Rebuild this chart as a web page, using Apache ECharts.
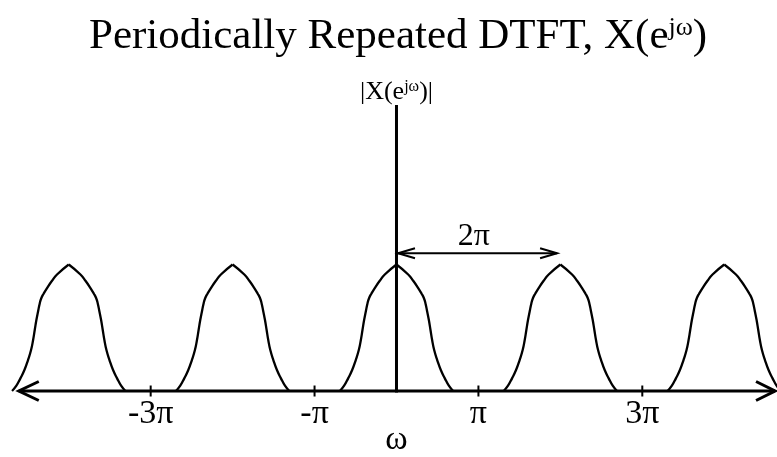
<!DOCTYPE html>
<html>
<head>
<meta charset="utf-8">
<script src="https://cdn.jsdelivr.net/npm/echarts@6/dist/echarts.min.js"></script>
<style>
  html, body { margin: 0; padding: 0; background: #fff; }
  #chart { width: 777px; height: 457px; }
</style>
</head>
<body>
<div id="chart"></div>
<script>
// One lobe of |X(e^jω)|: distance from the lobe centre (units of π) and magnitude
const lobeOffsets    = [0, 0.143, 0.204, 0.265, 0.305, 0.334, 0.354, 0.375, 0.395, 0.415, 0.435, 0.46, 0.497, 0.541, 0.59, 0.639, 0.692];
const lobeMagnitudes = [1, 0.921, 0.872, 0.814, 0.771, 0.735, 0.692, 0.627, 0.561, 0.482, 0.403, 0.324, 0.245, 0.166, 0.100, 0.042, 0];
// The spectrum repeats every 2π
const lobeCenters = [-4, -2, 0, 2, 4];
// ω axis ticks (units of π)
const tickValues = [-3, -1, 1, 3];
const tickLabels = ['-3π', '-π', 'π', '3π'];
// Extents of the drawn axes
const omegaAxisEnds = [-4.61, 4.62];
const magAxisTop = 2.261;
// Period marker: from ω = 0 to the next lobe peak
const periodSpan = [0, 1.96];
const periodLevel = 1.089;
const periodLabel = '2π';

const SERIF = '"Liberation Serif", "Times New Roman", serif';

// Build the two halves of every lobe as separate curves so each peak stays pointed
const curveSeries = [];
lobeCenters.forEach(function (c) {
  const left = [], right = [];
  for (let i = lobeOffsets.length - 1; i >= 0; i--) left.push([c - lobeOffsets[i], lobeMagnitudes[i]]);
  for (let i = 0; i < lobeOffsets.length; i++) right.push([c + lobeOffsets[i], lobeMagnitudes[i]]);
  [left, right].forEach(function (pts) {
    curveSeries.push({
      type: 'line',
      data: pts,
      symbol: 'none',
      smooth: 0.5,
      lineStyle: { color: '#000', width: 2.3 },
      silent: true,
      z: 2
    });
  });
});

function chevron(tip, dir, len, half, width) {
  return {
    type: 'polyline',
    shape: { points: [[tip[0] - dir * len, tip[1] - half], tip, [tip[0] - dir * len, tip[1] + half]] },
    style: { stroke: '#000', lineWidth: width, fill: null, lineJoin: 'miter' }
  };
}

const axesSeries = {
  type: 'custom',
  silent: true,
  z: 3,
  data: [0],
  renderItem: function (params, api) {
    const children = [];
    const a0 = api.coord([omegaAxisEnds[0], 0]);
    const a1 = api.coord([omegaAxisEnds[1], 0]);
    // ω axis with open arrowheads at both ends
    children.push({ type: 'line', shape: { x1: a0[0], y1: a0[1], x2: a1[0], y2: a1[1] },
      style: { stroke: '#000', lineWidth: 3 } });
    children.push(chevron(a0, -1, 20, 9.5, 3));
    children.push(chevron(a1, 1, 19, 9.5, 3));
    // magnitude axis
    const v0 = api.coord([0, 0]);
    const v1 = api.coord([0, magAxisTop]);
    children.push({ type: 'line', shape: { x1: v0[0], y1: v0[1] + 1.5, x2: v1[0], y2: v1[1] },
      style: { stroke: '#000', lineWidth: 3 } });
    children.push({ type: 'text', x: v1[0], y: v1[1] - 13,
      style: { text: '{n||X(e}{s|jω}{n|)|}', textAlign: 'center', textVerticalAlign: 'middle',
        rich: {
          n: { fontFamily: SERIF, fontSize: 26, fill: '#000', verticalAlign: 'bottom' },
          s: { fontFamily: SERIF, fontSize: 16, fill: '#000', verticalAlign: 'top' }
        } } });
    // ticks and their labels
    tickValues.forEach(function (t, i) {
      const p = api.coord([t, 0]);
      children.push({ type: 'line', shape: { x1: p[0], y1: p[1] - 5.5, x2: p[0], y2: p[1] + 5.5 },
        style: { stroke: '#000', lineWidth: 2 } });
      children.push({ type: 'text', x: p[0], y: p[1] + 23,
        style: { text: tickLabels[i], font: '34px ' + SERIF, fill: '#000',
          textAlign: 'center', textVerticalAlign: 'middle' } });
    });
    // ω axis title
    children.push({ type: 'text', x: v0[0], y: v0[1] + 49,
      style: { text: 'ω', font: '34px ' + SERIF, fill: '#000', textAlign: 'center', textVerticalAlign: 'middle' } });
    // period marker
    const q0 = api.coord([periodSpan[0], periodLevel]);
    const q1 = api.coord([periodSpan[1], periodLevel]);
    children.push({ type: 'line', shape: { x1: q0[0] + 1.5, y1: q0[1], x2: q1[0], y2: q1[1] },
      style: { stroke: '#000', lineWidth: 2 } });
    children.push(chevron([q0[0] + 1.5, q0[1]], -1, 17, 5, 2));
    children.push(chevron(q1, 1, 17, 5, 2));
    const mid = api.coord([(periodSpan[0] + periodSpan[1]) / 2, periodLevel]);
    children.push({ type: 'text', x: mid[0] - 3, y: mid[1] - 17,
      style: { text: periodLabel, font: '32px ' + SERIF, fill: '#000', textAlign: 'center', textVerticalAlign: 'middle' } });
    return { type: 'group', children: children };
  }
};

const chart = echarts.init(document.getElementById('chart'), null, { renderer: 'canvas' });
chart.setOption({
  animation: false,
  backgroundColor: '#fff',
  title: {
    text: '{n|Periodically Repeated DTFT, X(e}{s|jω}{n|)}',
    left: 84,
    top: 10,
    textStyle: {
      rich: {
        n: { fontFamily: SERIF, fontSize: 43, fontWeight: 'normal', color: '#000', verticalAlign: 'bottom' },
        s: { fontFamily: SERIF, fontSize: 26, fontWeight: 'normal', color: '#000', verticalAlign: 'top' }
      }
    }
  },
  grid: { left: 0, right: 0, top: 0, bottom: 0 },
  xAxis: {
    type: 'value', min: -4.839, max: 4.644,
    axisLine: { show: false }, axisTick: { show: false }, axisLabel: { show: false }, splitLine: { show: false }
  },
  yAxis: {
    type: 'value', min: -0.5217, max: 3.091,
    axisLine: { show: false }, axisTick: { show: false }, axisLabel: { show: false }, splitLine: { show: false }
  },
  series: curveSeries.concat([axesSeries])
});
</script>
</body>
</html>
